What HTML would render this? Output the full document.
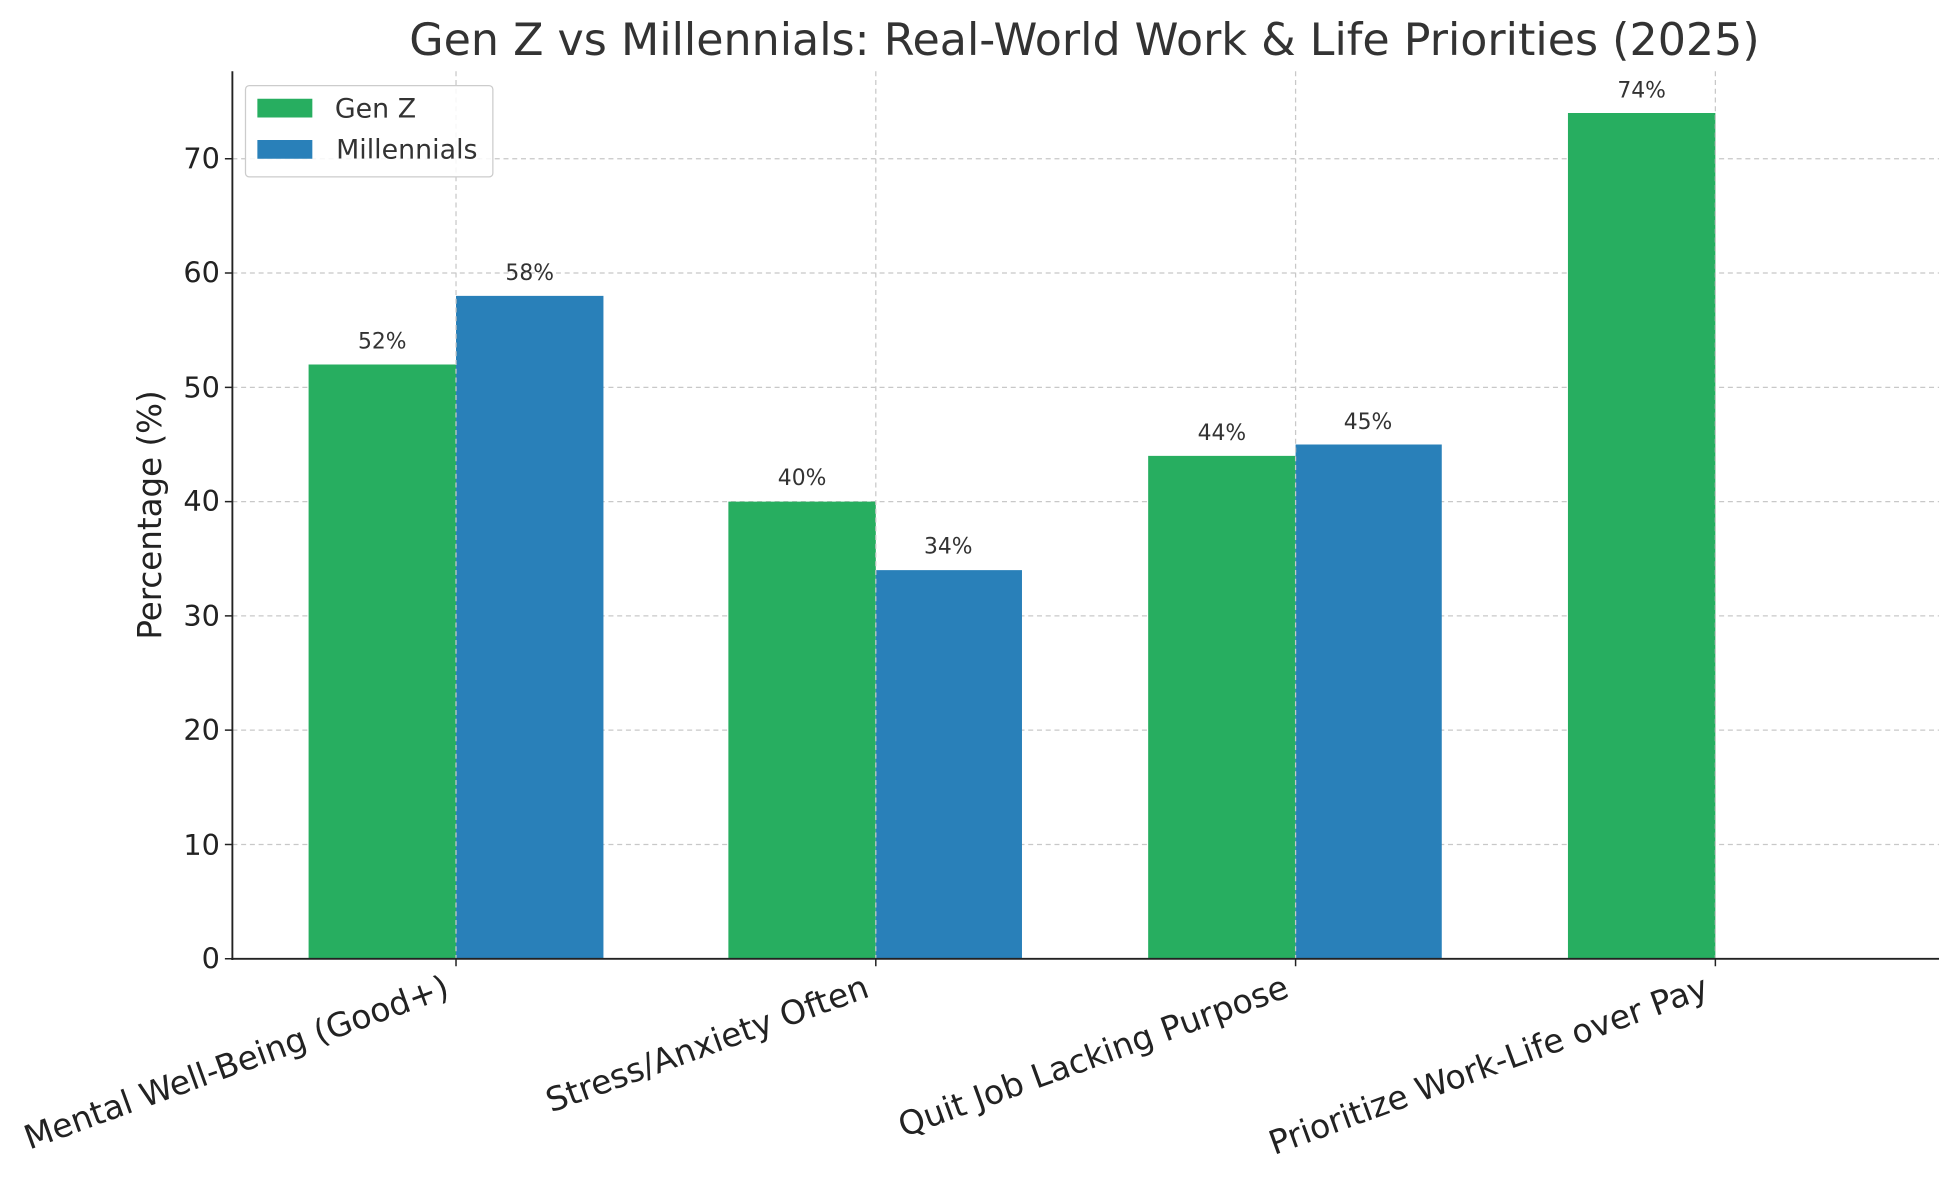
<!DOCTYPE html>
<html><head><meta charset="utf-8"><style>html,body{margin:0;padding:0;background:#fff}svg{display:block}</style></head><body>
<svg width="1959" height="1180" viewBox="0 0 1568 944" preserveAspectRatio="none" xmlns="http://www.w3.org/2000/svg" font-family="DejaVu Sans, Liberation Sans, sans-serif">
<rect width="1568" height="944" fill="#fff"/>
<text x="868" y="44" text-anchor="middle" font-size="35.5" fill="#333">Gen Z vs Millennials: Real-World Work &amp; Life Priorities (2025)</text>
<g stroke="#c8c8c8" stroke-width="1" stroke-dasharray="4,3">
<line x1="186" x2="1552" y1="675.6" y2="675.6"/><line x1="186" x2="1552" y1="584.1" y2="584.1"/>
<line x1="186" x2="1552" y1="492.7" y2="492.7"/><line x1="186" x2="1552" y1="401.3" y2="401.3"/>
<line x1="186" x2="1552" y1="309.9" y2="309.9"/><line x1="186" x2="1552" y1="218.4" y2="218.4"/>
<line x1="186" x2="1552" y1="127" y2="127"/>
</g>
<g>
<rect x="247" y="291.6" width="118" height="475.4" fill="#27ae60"/>
<rect x="365" y="236.7" width="118" height="530.3" fill="#2980b9"/>
<rect x="583" y="401.3" width="118" height="365.7" fill="#27ae60"/>
<rect x="701" y="456.1" width="117" height="310.9" fill="#2980b9"/>
<rect x="919" y="364.7" width="118" height="402.3" fill="#27ae60"/>
<rect x="1037" y="355.6" width="117" height="411.4" fill="#2980b9"/>
<rect x="1255" y="90.4" width="118" height="676.6" fill="#27ae60"/>
</g>
<g stroke="#c8c8c8" stroke-width="1" stroke-dasharray="4,3">
<line x1="365" x2="365" y1="57" y2="767"/><line x1="701" x2="701" y1="57" y2="767"/>
<line x1="1037" x2="1037" y1="57" y2="767"/><line x1="1373" x2="1373" y1="57" y2="767"/>
</g>
<g font-size="17.5" fill="#333" text-anchor="middle">
<text x="306" y="279">52%</text><text x="424" y="224">58%</text>
<text x="642" y="388">40%</text><text x="759" y="443">34%</text>
<text x="978" y="352">44%</text><text x="1095" y="343">45%</text>
<text x="1314" y="78">74%</text>
</g>
<line x1="186" y1="57" x2="186" y2="768" stroke="#222" stroke-width="1.5"/>
<line x1="185" y1="767" x2="1552" y2="767" stroke="#222" stroke-width="1.5"/>
<g stroke="#222" stroke-width="1.2">
<line x1="180" x2="186" y1="767" y2="767"/><line x1="180" x2="186" y1="675.6" y2="675.6"/><line x1="180" x2="186" y1="584.1" y2="584.1"/><line x1="180" x2="186" y1="492.7" y2="492.7"/><line x1="180" x2="186" y1="401.3" y2="401.3"/><line x1="180" x2="186" y1="309.9" y2="309.9"/><line x1="180" x2="186" y1="218.4" y2="218.4"/><line x1="180" x2="186" y1="127" y2="127"/>
<line x1="365" x2="365" y1="767" y2="773"/><line x1="701" x2="701" y1="767" y2="773"/><line x1="1037" x2="1037" y1="767" y2="773"/><line x1="1373" x2="1373" y1="767" y2="773"/>
</g>
<g font-size="23" fill="#222" text-anchor="end">
<text x="176" y="775">0</text><text x="176" y="684">10</text><text x="176" y="592">20</text><text x="176" y="501">30</text><text x="176" y="409">40</text><text x="176" y="318">50</text><text x="176" y="226">60</text><text x="176" y="135">70</text>
</g>
<text transform="translate(129,412) rotate(-90)" text-anchor="middle" font-size="26" fill="#222">Percentage (%)</text>
<g font-size="26.5" fill="#222" text-anchor="end">
<text transform="translate(361,797) rotate(-20)">Mental Well-Being (Good+)</text>
<text transform="translate(697,797) rotate(-20)">Stress/Anxiety Often</text>
<text transform="translate(1033,797) rotate(-20)">Quit Job Lacking Purpose</text>
<text transform="translate(1369,797) rotate(-20)">Prioritize Work-Life over Pay</text>
</g>
<rect x="196.5" y="68.5" width="198" height="73" rx="3" fill="#fff" fill-opacity="0.85" stroke="#ccc"/>
<rect x="206" y="79" width="44" height="15" fill="#27ae60"/>
<rect x="206" y="112" width="44" height="15" fill="#2980b9"/>
<g font-size="21.5" fill="#333"><text x="268" y="94">Gen Z</text><text x="269" y="127">Millennials</text></g>
</svg>
</body></html>
